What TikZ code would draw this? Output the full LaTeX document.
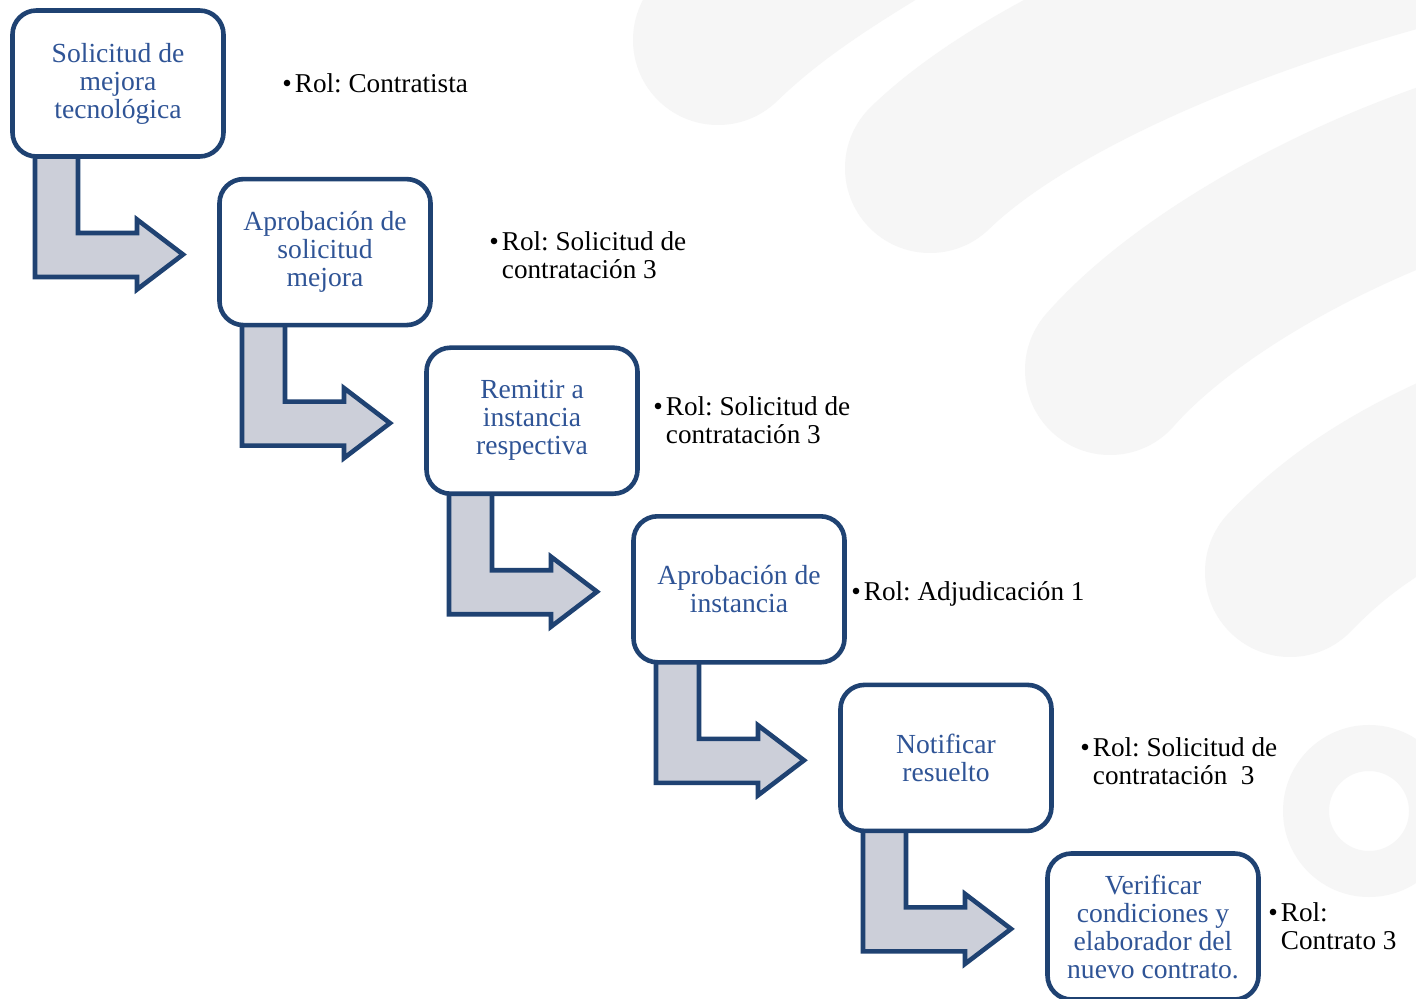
\documentclass[tikz,border=0pt]{standalone}
\usepackage{fontspec}
\setmainfont{Liberation Serif}
\frenchspacing
\definecolor{boxline}{RGB}{31,66,114}
\definecolor{boxtext}{RGB}{47,84,150}
\definecolor{arrowfill}{RGB}{204,207,217}
\definecolor{wm}{RGB}{246,246,246}
\newcommand{\rolone}[1]{\begin{tabular}{@{}l@{\hspace{1.5pt}}l@{}}\textbullet&#1\end{tabular}}
\newcommand{\roltwo}[2]{\begin{tabular}{@{}l@{\hspace{1.5pt}}l@{}}\textbullet&#1\\&#2\end{tabular}}
\begin{document}
\begin{tikzpicture}[x=0.5pt,y=-0.5pt,
  stepbox/.style={draw=boxline, line width=2.3pt, rounded corners=12pt, fill=white,
    minimum width=105.5pt, minimum height=73pt, inner sep=0pt, align=center,
    text=boxtext, font=\fontsize{13.8}{14}\selectfont},
  roltext/.style={anchor=west, inner sep=0pt, text=black,
    font=\fontsize{13.6}{14}\selectfont},
  bentarrow/.style={draw=boxline, line width=2.3pt, fill=arrowfill, miter limit=10},
  wmband/.style={draw=wm, line width=85pt, line cap=round}
]
\path[use as bounding box, clip] (0,0) rectangle (1416,999);
\fill[white] (0,0) rectangle (1416,999);
% watermark
\draw[wmband] (718,40) .. controls (780,-20) and (850,-60) .. (950,-120);
\draw[wmband] (930,168) .. controls (1010,90) and (1200,-10) .. (1500,-80);
\draw[wmband] (1110,370) .. controls (1180,290) and (1330,200) .. (1500,150);
\draw[wmband] (1290,572) .. controls (1340,520) and (1400,480) .. (1500,440);
\draw[draw=wm, line width=23pt] (1369,811) circle [radius=31.5pt];
% box centres
\coordinate (c1) at (118,83.5);
\coordinate (c2) at (325,252.1);
\coordinate (c3) at (532,420.7);
\coordinate (c4) at (739,589.3);
\coordinate (c5) at (946,757.9);
\coordinate (c6) at (1153,926.5);
% bent arrows from each box to the next (behind the boxes)
\foreach \a/\b in {c1/c2,c2/c3,c3/c4,c4/c5,c5/c6}{
  \draw[bentarrow] ([shift={(-83,60)}]\a) -- ([shift={(-40,60)}]\a)
    -- ([shift={(-40,149.5)}]\a) -- ([shift={(19,149.5)}]\a)
    -- ([shift={(19,136)}]\a) -- ([shift={(65,171)}]\a)
    -- ([shift={(19,206)}]\a) -- ([shift={(19,193.5)}]\a)
    -- ([shift={(-83,193.5)}]\a) -- cycle;
}
% boxes
\node[stepbox] (b1) at (c1) {Solicitud de\\mejora\\tecnológica};
\node[stepbox] (b2) at (c2) {Aprobación de\\solicitud\\mejora};
\node[stepbox] (b3) at (c3) {Remitir a\\instancia\\respectiva};
\node[stepbox] (b4) at (c4) {Aprobación de\\instancia};
\node[stepbox] (b5) at (c5) {Notificar\\resuelto};
\node[stepbox] (b6) at (c6) {Verificar\\condiciones y\\elaborador del\\nuevo contrato.};
% roles
\node[roltext] (r1) at (282,87) {\rolone{Rol: Contratista}};
\node[roltext] (r2) at (489,259) {\roltwo{Rol: Solicitud de}{contratación 3}};
\node[roltext] (r3) at (653,424) {\roltwo{Rol: Solicitud de}{contratación 3}};
\node[roltext] (r4) at (851,595) {\rolone{Rol: Adjudicación 1}};
\node[roltext] (r5) at (1080,765) {\roltwo{Rol: Solicitud de}{contratación~~3}};
\node[roltext] (r6) at (1268,930) {\roltwo{Rol:}{Contrato 3}};
\end{tikzpicture}
\end{document}
